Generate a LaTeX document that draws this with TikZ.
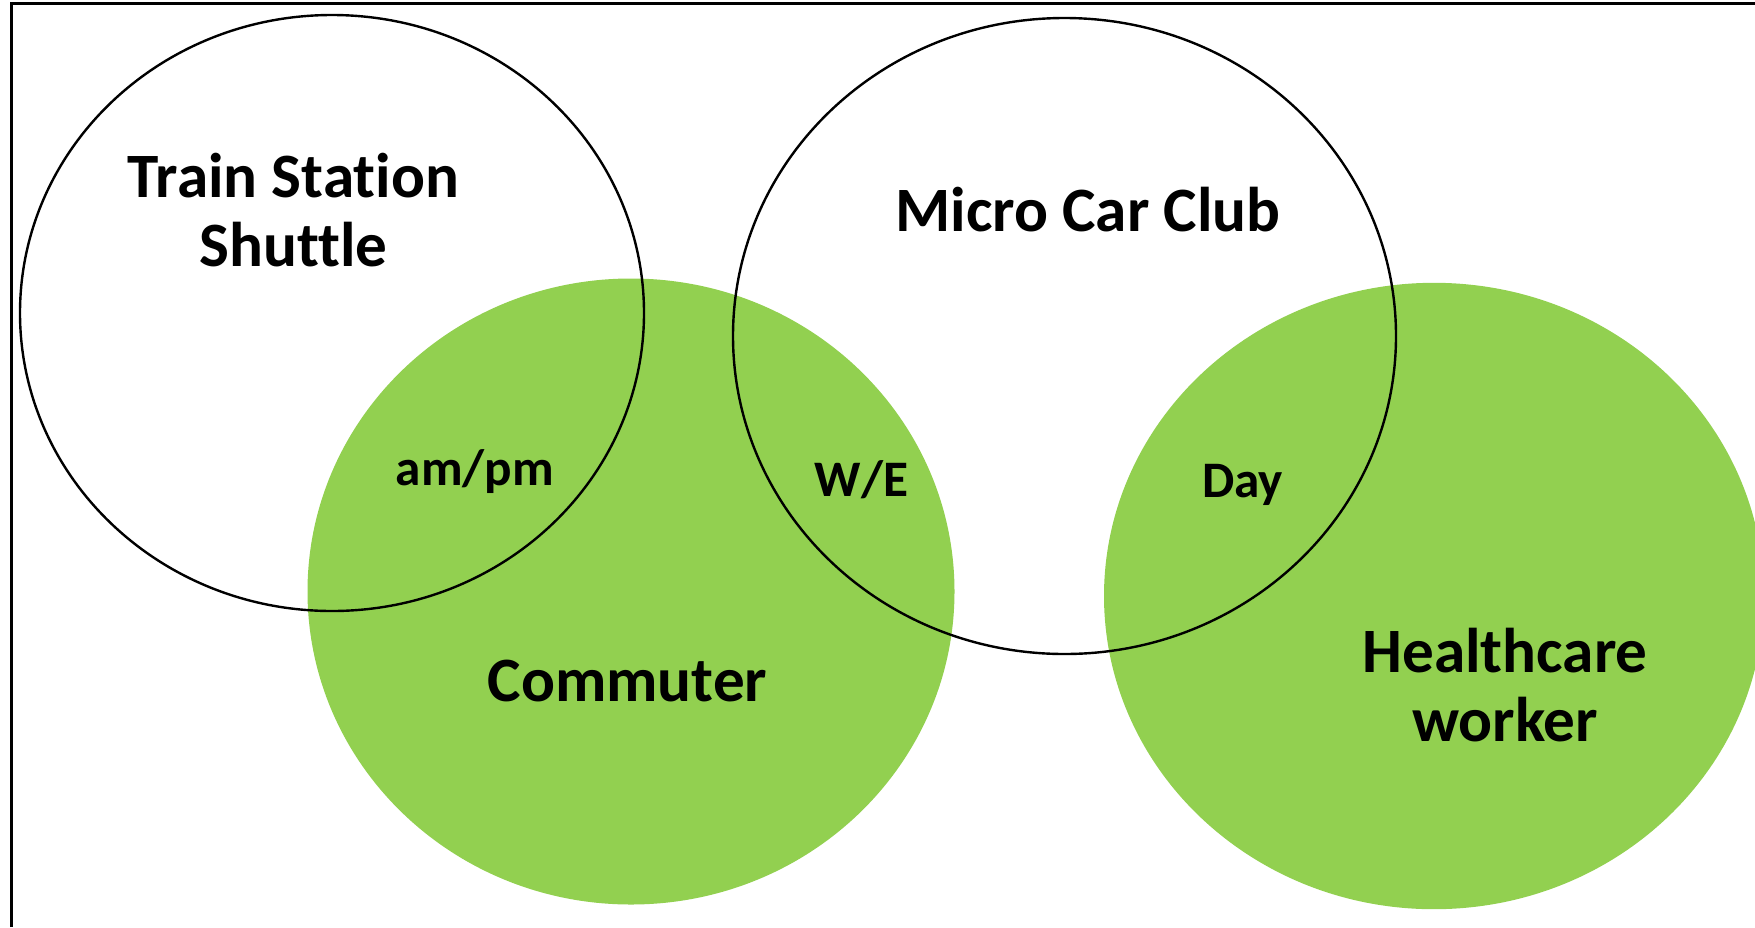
\documentclass[tikz,border=0pt]{standalone}
\usepackage{fontspec}
\setmainfont{Carlito}[Ligatures=NoCommon]
\usepackage{tikz}
\usetikzlibrary{shapes.geometric}
\definecolor{officegreen}{HTML}{92D050}

\begin{document}
\begin{tikzpicture}
        [x=0.5pt, y=-0.5pt,
        userset/.style={ellipse, fill=officegreen, draw=none, inner sep=0pt, outer sep=0pt},
        service/.style={ellipse, draw=black, line width=1.2pt, inner sep=0pt, outer sep=0pt},
        biglabel/.style={font=\bfseries\fontsize{31.6}{34.5}\selectfont, align=center, anchor=base, inner sep=0pt},
        smalllabel/.style={font=\bfseries\fontsize{25.6}{29}\selectfont, anchor=base, inner sep=0pt}]
        \path[use as bounding box, clip] (0,0) rectangle (1755,927);

        % green user groups
        \node[userset, minimum width=323.5pt, minimum height=313pt] (commuter) at (631,591.5) {};
        \node[userset, minimum width=330pt, minimum height=313.2pt] (healthcare) at (1434,596) {};

        % services
        \node[service, minimum width=312pt, minimum height=298pt] (shuttle) at (332,313) {};
        \node[service, minimum width=331.5pt, minimum height=318pt] (carclub) at (1064.5,336) {};

        \draw[line width=1.5pt] (11,927) -- (11,3.5) -- (1755,3.5);

        % base of a two line label is its last line
        \node[biglabel] (shuttletext) at (293.5,266.7) {Train Station\\Shuttle};
        \node[biglabel] (carclubtext) at (1088,231.7) {Micro Car Club};
        \node[biglabel] (commutertext) at (627.5,701.7) {Commuter};
        \node[biglabel] (healthcaretext) at (1505,741.7) {Healthcare\\worker};

        \node[smalllabel] (ampm) at (475,485) {am/pm};
        \node[smalllabel] (weekend) at (861.5,496) {W/E};
        \node[smalllabel] (day) at (1242.5,497.7) {Day};
\end{tikzpicture}
\end{document}
